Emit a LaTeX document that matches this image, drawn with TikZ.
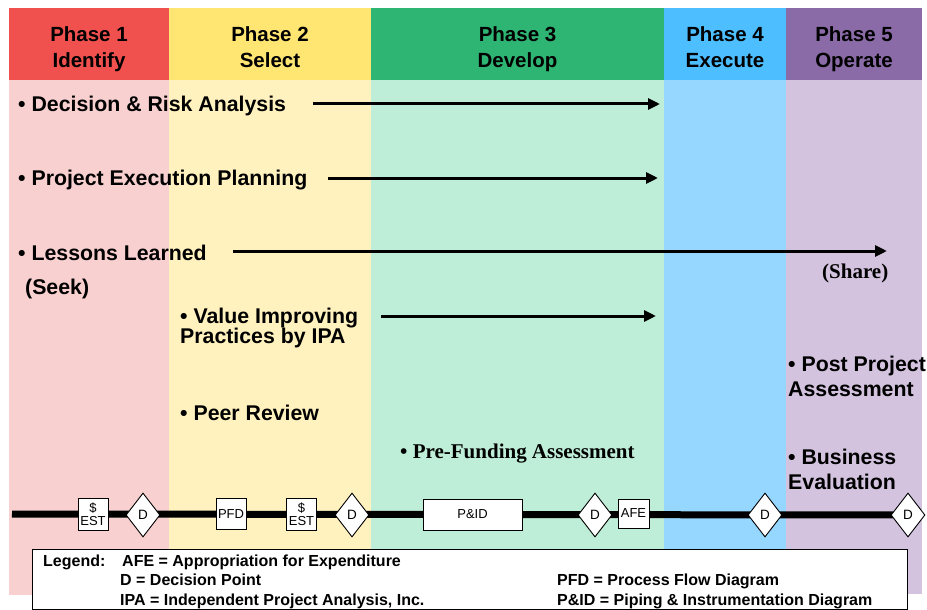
\documentclass[tikz,border=0pt]{standalone}
\usepackage{fontspec}
\setmainfont{Liberation Sans}
\newfontfamily\timesfont{Liberation Serif}
\usetikzlibrary{arrows.meta,shapes.geometric,backgrounds}

% phase colours: header band and body column
\definecolor{pOneHead}{HTML}{F0514E}\definecolor{pOneBody}{HTML}{F8D0D0}
\definecolor{pTwoHead}{HTML}{FFE572}\definecolor{pTwoBody}{HTML}{FFF2BF}
\definecolor{pThreeHead}{HTML}{2EB574}\definecolor{pThreeBody}{HTML}{BEEED7}
\definecolor{pFourHead}{HTML}{4DBEFF}\definecolor{pFourBody}{HTML}{96D7FF}
\definecolor{pFiveHead}{HTML}{8A6BA7}\definecolor{pFiveBody}{HTML}{D3C3DE}

\begin{document}
\begin{tikzpicture}[x=1pt,y=-1pt,
  phasehead/.style={anchor=base,inner sep=0pt,font=\fontsize{20.5}{24}\selectfont\bfseries},
  item/.style={anchor=base west,inner sep=0pt,font=\fontsize{21.3}{24}\selectfont\bfseries},
  serifitem/.style={anchor=base west,inner sep=0pt,font=\fontsize{21}{24}\selectfont\timesfont\bfseries},
  flow/.style={line width=3pt,-{Triangle[length=12pt,width=11pt]}},
  gatebox/.style={draw,fill=white,line width=0.9pt,inner sep=1pt,align=center,
    font=\fontsize{13}{12.5}\selectfont},
  decision/.style={diamond,draw,fill=white,line width=0.9pt,inner sep=0pt,
    minimum width=34pt,minimum height=44pt,font=\fontsize{13.5}{14}\selectfont},
  legendtext/.style={anchor=base west,inner sep=0pt,font=\fontsize{16}{18}\selectfont\bfseries}]

\useasboundingbox (0,0) rectangle (927,610);

% ---------- phase columns ----------
\begin{pgfonlayer}{background}
  \fill[pOneHead]   (9,8)   rectangle (169,80);  \fill[pOneBody]   (9,80)   rectangle (169,595);
  \fill[pTwoHead]   (169,8) rectangle (371,80);  \fill[pTwoBody]   (169,80) rectangle (371,595);
  \fill[pThreeHead] (371,8) rectangle (664,80);  \fill[pThreeBody] (371,80) rectangle (664,595);
  \fill[pFourHead]  (664,8) rectangle (786,80);  \fill[pFourBody]  (664,80) rectangle (786,595);
  \fill[pFiveHead]  (786,8) rectangle (922,80);  \fill[pFiveBody]  (786,80) rectangle (922,594);
\end{pgfonlayer}

\node[phasehead] (h1a) at (89,42)    {Phase 1};
\node[phasehead] (h1b) at (89,68)    {Identify};
\node[phasehead] (h2a) at (270,42)   {Phase 2};
\node[phasehead] (h2b) at (270,68)   {Select};
\node[phasehead] (h3a) at (517.5,42) {Phase 3};
\node[phasehead] (h3b) at (517.5,68) {Develop};
\node[phasehead] (h4a) at (725,42)   {Phase 4};
\node[phasehead] (h4b) at (725,68)   {Execute};
\node[phasehead] (h5a) at (854,42)   {Phase 5};
\node[phasehead] (h5b) at (854,68)   {Operate};

% ---------- activities ----------
\node[item] (dra)  at (18,111)  {• Decision \& Risk Analysis};
\node[item] (pep)  at (18,185)  {• Project Execution Planning};
\node[item] (ll)   at (18,260)  {• Lessons Learned};
\node[item] (seek) at (25,294)  {(Seek)};
\node[serifitem] (share) at (822,278) {(Share)};
\node[item] (vipa) at (180,323) {• Value Improving};
\node[item] (vipb) at (180,343) {Practices by IPA};
\node[item] (peer) at (180,420) {• Peer Review};
\node[serifitem] (pfa) at (400,458) {• Pre-Funding Assessment};
\node[item] (ppa)  at (788,371) {• Post Project};
\node[item] (ppb)  at (788,396) {Assessment};
\node[item] (bea)  at (788,464) {• Business};
\node[item] (beb)  at (788,489) {Evaluation};

\coordinate (draS) at (313,104); \coordinate (draE) at (660,104);
\coordinate (pepS) at (328,178); \coordinate (pepE) at (658,178);
\coordinate (llS)  at (233,251); \coordinate (llE)  at (887,251);
\coordinate (vipS) at (381,316); \coordinate (vipE) at (656,316);
\draw[flow] (draS) -- (draE);
\draw[flow] (pepS) -- (pepE);
\draw[flow] (llS)  -- (llE);
\draw[flow] (vipS) -- (vipE);

% ---------- timeline with gates ----------
\node[gatebox,minimum width=30pt,minimum height=32pt] (est1) at (93,514)   {\$\\EST};
\node[decision] (d1) at (143,515) {D};
\node[gatebox,minimum width=30pt,minimum height=31pt] (pfd)  at (231,514)  {PFD};
\node[gatebox,minimum width=30pt,minimum height=32pt] (est2) at (301.5,514) {\$\\EST};
\node[decision] (d2) at (352,515) {D};
\node[gatebox,minimum width=99pt,minimum height=31pt] (pid)  at (472.5,514.5) {P\&ID};
\node[decision] (d3) at (595,515) {D};
\node[gatebox,minimum width=31pt,minimum height=29pt] (afe)  at (633.5,513.5) {AFE};
\node[decision] (d4) at (765,515) {D};
\node[decision] (d5) at (908,515) {D};

\coordinate (tlStart) at (12,514);
\begin{pgfonlayer}{background}
  \draw[line width=7pt] (tlStart) -- (d5.center);
\end{pgfonlayer}

% ---------- legend ----------
\node[draw,fill=white,line width=1.3pt,anchor=north west,inner sep=0pt,
      minimum width=875pt,minimum height=60pt] (legend) at (32,549) {};
\node[legendtext] (lgTitle) at (43,566)  {Legend:};
\node[legendtext] (lgAfe)   at (122,566) {AFE = Appropriation for Expenditure};
\node[legendtext] (lgD)     at (120,585) {D = Decision Point};
\node[legendtext] (lgIpa)   at (120,605) {IPA = Independent Project Analysis, Inc.};
\node[legendtext] (lgPfd)   at (557,585) {PFD = Process Flow Diagram};
\node[legendtext] (lgPid)   at (557,605) {P\&ID = Piping \& Instrumentation Diagram};

\end{tikzpicture}
\end{document}
